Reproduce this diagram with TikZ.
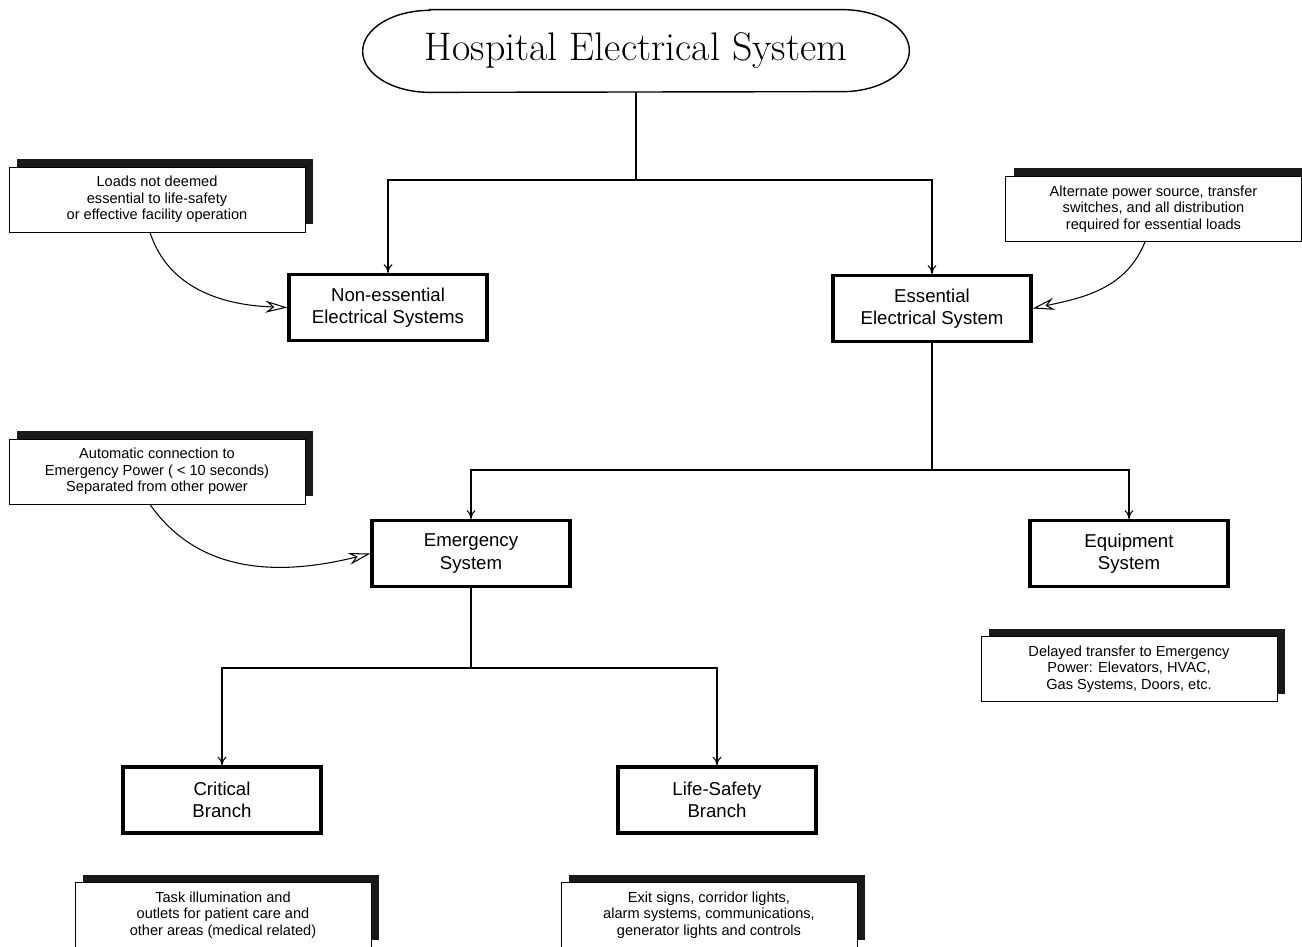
\documentclass[tikz,border=0pt]{standalone}
\usepackage{fontspec}
\setsansfont{Liberation Sans}
\usetikzlibrary{arrows.meta}
\usetikzlibrary{shadows}

\begin{document}
\begin{tikzpicture}[
  sysbox/.style={draw, line width=1.8pt, fill=white, minimum width=3.96cm, minimum height=1.32cm,
    align=center, font=\sffamily\fontsize{10.6}{12.6}\selectfont},
  notebox/.style={draw, line width=0.5pt, fill=white, minimum width=5.92cm, minimum height=1.3cm,
    align=center, font=\sffamily\fontsize{8.3}{9.5}\selectfont,
    general shadow={shadow xshift=0.16cm, shadow yshift=0.16cm, fill=black!90}},
  link/.style={line width=0.6pt, -{To[length=5pt, width=5pt]}},
  pointer/.style={line width=0.6pt, -{Stealth[open, length=0.44cm, width=0.24cm]}}]
\path[use as bounding box, clip] (0,0) rectangle (26.04,-18.94);
\fill[white] (0,0) rectangle (26.04,-18.94);

% Top level
\node (title) at (12.72,-1.02) [minimum width=10.92cm, minimum height=1.64cm,
  font=\fontsize{22.7}{27}\selectfont] {Hospital Electrical System};
\draw[line width=0.8pt] ([xshift=1.34cm]title.north west) -- ([xshift=-1.34cm]title.north east)
  arc[start angle=90, end angle=-90, x radius=1.34cm, y radius=0.82cm]
  -- ([xshift=1.34cm]title.south west)
  arc[start angle=270, end angle=90, x radius=1.34cm, y radius=0.82cm] -- cycle;

% Second level
\node[sysbox] (noness) at (7.76,-6.15) {Non-essential\\Electrical Systems};
\node[sysbox] (ess) at (18.64,-6.17) {Essential\\Electrical System};
\coordinate (j1) at (12.72,-3.6);
\draw[line width=1.1pt] (title.south) -- (j1);
\draw[link] (j1) -| (noness.north);
\draw[link] (j1) -| (ess.north);

% Essential system
\node[sysbox] (emerg) at (9.42,-11.07) {Emergency\\System};
\node[sysbox] (equip) at (22.58,-11.07) {Equipment\\System};
\coordinate (j2) at (18.64,-9.4);
\draw[line width=0.6pt] (ess.south) -- (j2);
\draw[link] (j2) -| (emerg.north);
\draw[link] (j2) -| (equip.north);

% Emergency system branches
\node[sysbox] (crit) at (4.44,-16.0) {Critical\\Branch};
\node[sysbox] (life) at (14.34,-16.0) {Life-Safety\\Branch};
\coordinate (j3) at (9.42,-13.36);
\draw[line width=0.6pt] (emerg.south) -- (j3);
\draw[link] (j3) -| (crit.north);
\draw[link] (j3) -| (life.north);

% Notes
\node[notebox] (n1) at (3.14,-3.99) {Loads not deemed\\essential to life-safety\\or effective facility operation};
\node[notebox] (n2) at (23.07,-4.18) {Alternate power source, transfer\\switches, and all distribution\\required for essential loads};
\node[notebox] (n3) at (3.14,-9.43) {Automatic connection to\\Emergency Power ( < 10 seconds)\\Separated from other power};
\node[notebox] (n4) at (22.58,-13.38) {Delayed transfer to Emergency\\Power: Elevators, HVAC,\\Gas Systems, Doors, etc.};
\node[notebox] (n5) at (4.46,-18.3) {Task illumination and\\outlets for patient care and\\other areas (medical related)};
\node[notebox] (n6) at (14.18,-18.3) {Exit signs, corridor lights,\\alarm systems, communications,\\generator lights and controls};

\draw[pointer] ([xshift=-0.14cm]n1.south) to[out=-72, in=178] (noness.west);
\draw[pointer] ([xshift=-0.17cm]n2.south) to[out=-112, in=12] (ess.east);
\draw[pointer] ([xshift=-0.14cm]n3.south) to[out=-55, in=194] (emerg.west);
\end{tikzpicture}
\end{document}
